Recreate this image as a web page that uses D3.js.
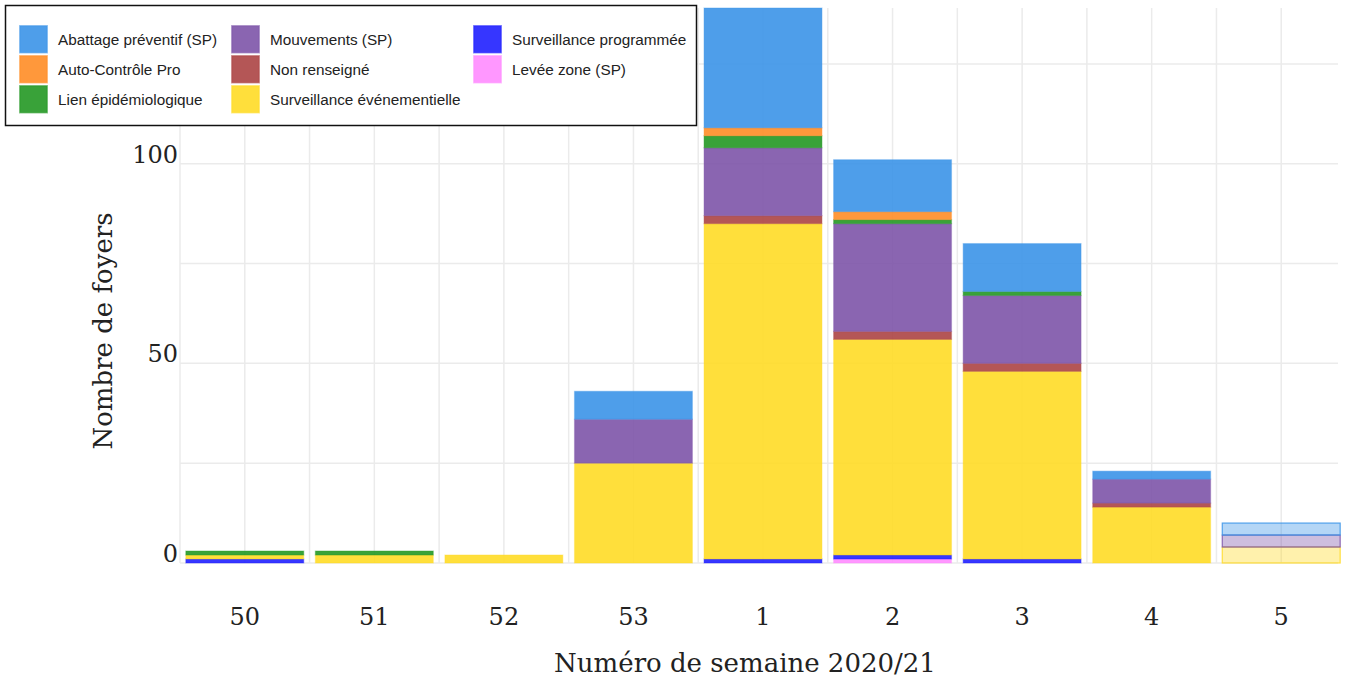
<!DOCTYPE html>
<html>
<head>
<meta charset="utf-8">
<script src="https://cdn.jsdelivr.net/npm/d3@7"></script>
<style>
  body { margin: 0; background: #fff; }
  #content { width: 1346px; height: 677px; }
</style>
</head>
<body>
<div id="content"></div>
<script>
// semaines et nombre de foyers par type de détection
var weeks = ["50", "51", "52", "53", "1", "2", "3", "4", "5"];
var leveeZone = [0, 0, 0, 0, 0, 1, 0, 0, 0];
var survProgrammee = [1, 0, 0, 0, 1, 1, 1, 0, 0];
var survEvenementielle = [1, 2, 2, 25, 84, 54, 47, 14, 4];
var nonRenseigne = [0, 0, 0, 0, 2, 2, 2, 1, 0];
var mouvements = [0, 0, 0, 11, 17, 27, 17, 6, 3];
var lienEpidemio = [1, 1, 0, 0, 3, 1, 1, 0, 0];
var autoControle = [0, 0, 0, 0, 2, 2, 0, 0, 0];
var abattage = [0, 0, 0, 7, 30, 13, 12, 2, 3];
var yTicks = [0, 50, 100];
var partialWeek = "5";

(function(d3) {
    var width = 1346, height = 677;
    var margin = {top: 8, right: 0, bottom: 114, left: 180};

    // ordre d'empilement, du bas vers le haut
    var series = [
        {name: "Levée zone (SP)", color: "#ff8cff", values: leveeZone},
        {name: "Surveillance programmée", color: "#2020ff", values: survProgrammee},
        {name: "Surveillance événementielle", color: "#ffdb26", values: survEvenementielle},
        {name: "Non renseigné", color: "#ac4444", values: nonRenseigne},
        {name: "Mouvements (SP)", color: "#7d54a9", values: mouvements},
        {name: "Lien épidémiologique", color: "#239823", values: lienEpidemio},
        {name: "Auto-Contrôle Pro", color: "#ff8d26", values: autoControle},
        {name: "Abattage préventif (SP)", color: "#3b94e8", values: abattage}
    ];
    var legendOrder = ["Abattage préventif (SP)", "Auto-Contrôle Pro", "Lien épidémiologique",
        "Mouvements (SP)", "Non renseigné", "Surveillance événementielle",
        "Surveillance programmée", "Levée zone (SP)"];

    var table = weeks.map(function(w, i) {
        var row = {week: w};
        series.forEach(function(s) { row[s.name] = s.values[i]; });
        return row;
    });
    var stacked = d3.stack().keys(series.map(function(s) { return s.name; }))(table);
    var colorOf = {};
    series.forEach(function(s) { colorOf[s.name] = s.color; });

    var svg = d3.select("#content").append("svg")
        .attr("viewBox", [0, 0, width, height])
        .attr("width", width).attr("height", height);

    var x = d3.scaleBand()
        .domain(weeks)
        .range([margin.left, width - margin.right])
        .paddingInner(0.09).paddingOuter(0.045);
    var step = x.step();

    var total = d3.max(table, function(d) {
        return d3.sum(series, function(s) { return d[s.name]; });
    });
    var y = d3.scaleLinear()
        .domain([0, total])
        .range([height - margin.bottom, margin.top]);

    // grille
    var grid = svg.append("g").attr("stroke", "#ebebeb").attr("stroke-width", 1.5);
    d3.range(0, total, 25).forEach(function(v) {
        grid.append("line")
            .attr("x1", margin.left).attr("x2", width - 8)
            .attr("y1", y(v)).attr("y2", y(v));
    });
    weeks.forEach(function(w, i) {
        var cx = x(w) + x.bandwidth() / 2;
        [cx - step / 2, cx].forEach(function(gx) {
            grid.append("line")
                .attr("x1", gx).attr("x2", gx)
                .attr("y1", margin.top).attr("y2", y(0));
        });
    });

    // barres empilées
    svg.append("g").selectAll("g")
        .data(stacked)
        .join("g")
        .attr("fill", function(d) { return colorOf[d.key]; })
        .attr("stroke", function(d) { return colorOf[d.key]; })
        .selectAll("rect")
        .data(function(d) { return d.filter(function(p) { return p[1] > p[0]; }); })
        .join("rect")
        .attr("x", function(d) { return x(d.data.week); })
        .attr("width", x.bandwidth())
        .attr("y", function(d) { return y(d[1]); })
        .attr("height", function(d) { return y(d[0]) - y(d[1]); })
        .attr("fill-opacity", function(d) { return d.data.week == partialWeek ? 0.38 : 0.9; })
        .attr("stroke-opacity", function(d) { return d.data.week == partialWeek ? 0.85 : 0.35; })
        .attr("stroke-width", 1.2);

    // axes
    var axisFont = "'DejaVu Serif', 'Liberation Serif', serif";
    svg.append("g")
        .attr("transform", "translate(0," + (y(0) + 62) + ")")
        .call(d3.axisBottom(x).tickSize(0).tickPadding(0))
        .call(function(g) { g.select(".domain").remove(); })
        .selectAll("text")
        .attr("dy", 0)
        .attr("font-family", axisFont).attr("font-size", 24).attr("fill", "#222");

    svg.append("g")
        .attr("transform", "translate(" + (margin.left - 2) + ",0)")
        .call(d3.axisLeft(y).tickValues(yTicks).tickSize(0).tickPadding(0))
        .call(function(g) { g.select(".domain").remove(); })
        .selectAll("text")
        .attr("dy", "-0.06em")
        .attr("font-family", axisFont).attr("font-size", 24).attr("fill", "#222");

    svg.append("text")
        .attr("x", 745).attr("y", 672)
        .attr("text-anchor", "middle")
        .attr("font-family", axisFont).attr("font-size", 26).attr("fill", "#222")
        .text("Numéro de semaine 2020/21");

    svg.append("text")
        .attr("transform", "translate(112,331) rotate(-90)")
        .attr("text-anchor", "middle")
        .attr("font-family", axisFont).attr("font-size", 26).attr("fill", "#222")
        .text("Nombre de foyers");

    // légende
    var legend = svg.append("g");
    legend.append("rect")
        .attr("x", 5.5).attr("y", 5.5).attr("width", 691).attr("height", 120)
        .attr("fill", "#fff").attr("stroke", "#111").attr("stroke-width", 1.5);
    var colX = [19, 231, 473];
    legendOrder.forEach(function(name, i) {
        var col = Math.floor(i / 3), row = i % 3;
        var item = legend.append("g")
            .attr("transform", "translate(" + colX[col] + "," + (25 + row * 30) + ")");
        item.append("rect")
            .attr("x", 0.75).attr("y", 0.75).attr("width", 27.5).attr("height", 27)
            .attr("fill", colorOf[name]).attr("fill-opacity", 0.9)
            .attr("stroke", colorOf[name]).attr("stroke-opacity", 0.5).attr("stroke-width", 1.5);
        item.append("text")
            .attr("x", 39).attr("y", 15).attr("dy", "0.35em")
            .attr("font-family", "'Liberation Sans', Arial, sans-serif")
            .attr("font-size", 15.3).attr("fill", "#222")
            .text(name);
    });

})(d3);
</script>
</body>
</html>
